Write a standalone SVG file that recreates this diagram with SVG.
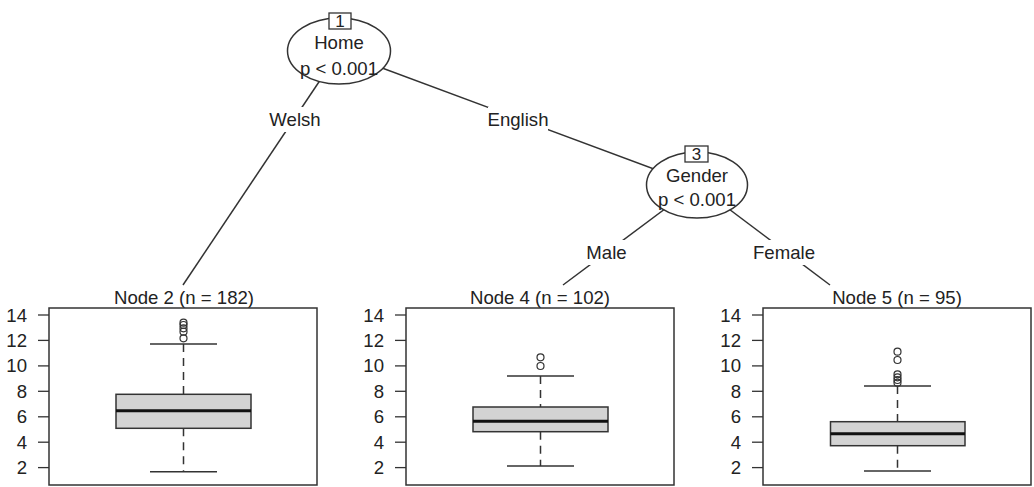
<svg xmlns="http://www.w3.org/2000/svg" width="1034" height="487" viewBox="0 0 1034 487">
<style>
text{font-family:"Liberation Sans",Arial,sans-serif;font-size:18.6px;fill:#222}
.c{text-anchor:middle}
.r{text-anchor:end}
.ln{stroke:#333;stroke-width:1.5;fill:none}
.nd{fill:#fff;stroke:#333;stroke-width:1.5}
.bx{fill:#fff;stroke:#333;stroke-width:1.3}
.pn{fill:none;stroke:#333;stroke-width:1.5}
.tk{stroke:#333;stroke-width:1.3}
.box{fill:#d3d3d3;stroke:#333;stroke-width:1.5}
.med{stroke:#111;stroke-width:3}
.wh{stroke:#333;stroke-width:1.5;stroke-dasharray:8 6}
.cap{stroke:#333;stroke-width:1.5}
.out{fill:none;stroke:#333;stroke-width:1.2}
.lb{fill:#fff}
.id{font-size:17px}
.tv{font-size:17.6px}
</style>
<g id="connectors">
<line class="ln" x1="339" y1="52" x2="183" y2="285"/>
<line class="ln" x1="339" y1="52" x2="697" y2="185"/>
<line class="ln" x1="697" y1="185" x2="563" y2="285"/>
<line class="ln" x1="697" y1="185" x2="830" y2="285"/>
<rect class="lb" x="270" y="107" width="50" height="25"/>
<text class="c" x="295" y="126">Welsh</text>
<rect class="lb" x="488" y="107" width="60" height="25"/>
<text class="c" x="518" y="126">English</text>
<rect class="lb" x="587" y="240" width="39" height="25"/>
<text class="c" x="606.5" y="259">Male</text>
<rect class="lb" x="755" y="240" width="58" height="25"/>
<text class="c" x="784" y="259">Female</text>
</g>
<g id="node1">
<ellipse class="nd" cx="339" cy="51" rx="51.5" ry="33"/>
<rect class="bx" x="329" y="13" width="22" height="16"/>
<text class="c id" x="340" y="27">1</text>
<text class="c" x="339" y="49">Home</text>
<text class="c" x="339" y="75">p &lt; 0.001</text>
</g>
<g id="node3">
<ellipse class="nd" cx="697" cy="185" rx="50.5" ry="33"/>
<rect class="bx" x="685" y="146" width="23" height="16"/>
<text class="c id" x="696.5" y="160">3</text>
<text class="c" x="697" y="182">Gender</text>
<text class="c" x="697" y="206">p &lt; 0.001</text>
</g>
<g id="node2">
<text class="c" x="184" y="304">Node 2 (n = 182)</text>
<rect class="pn" x="49" y="308" width="268" height="177"/>
<g class="tk"><line x1="38" y1="315" x2="49" y2="315"/><line x1="38" y1="340.4" x2="49" y2="340.4"/><line x1="38" y1="365.9" x2="49" y2="365.9"/><line x1="38" y1="391.3" x2="49" y2="391.3"/><line x1="38" y1="416.8" x2="49" y2="416.8"/><line x1="38" y1="442.2" x2="49" y2="442.2"/><line x1="38" y1="467.6" x2="49" y2="467.6"/></g>
<g class="tv"><text class="r" x="27" y="321.5">14</text><text class="r" x="27" y="347">12</text><text class="r" x="27" y="372.4">10</text><text class="r" x="27" y="397.8">8</text><text class="r" x="27" y="423.3">6</text><text class="r" x="27" y="448.7">4</text><text class="r" x="27" y="474.1">2</text></g>
<line class="wh" x1="183.5" y1="344" x2="183.5" y2="394.3"/>
<line class="wh" x1="183.5" y1="428.3" x2="183.5" y2="471.7"/>
<line class="cap" x1="150" y1="344" x2="217" y2="344"/>
<line class="cap" x1="150" y1="471.7" x2="217" y2="471.7"/>
<rect class="box" x="116" y="394.3" width="135" height="34"/>
<line class="med" x1="116" y1="410.7" x2="251" y2="410.7"/>
<circle class="out" cx="183.5" cy="338.3" r="3.5"/><circle class="out" cx="183.5" cy="331.7" r="3.5"/><circle class="out" cx="183.5" cy="328.3" r="3.5"/><circle class="out" cx="183.5" cy="325" r="3.5"/><circle class="out" cx="183.5" cy="322.7" r="3.5"/>
</g>
<g id="node4">
<text class="c" x="540" y="304">Node 4 (n = 102)</text>
<rect class="pn" x="406" y="308" width="268" height="177"/>
<g class="tk"><line x1="395" y1="315" x2="406" y2="315"/><line x1="395" y1="340.4" x2="406" y2="340.4"/><line x1="395" y1="365.9" x2="406" y2="365.9"/><line x1="395" y1="391.3" x2="406" y2="391.3"/><line x1="395" y1="416.8" x2="406" y2="416.8"/><line x1="395" y1="442.2" x2="406" y2="442.2"/><line x1="395" y1="467.6" x2="406" y2="467.6"/></g>
<g class="tv"><text class="r" x="384" y="321.5">14</text><text class="r" x="384" y="347">12</text><text class="r" x="384" y="372.4">10</text><text class="r" x="384" y="397.8">8</text><text class="r" x="384" y="423.3">6</text><text class="r" x="384" y="448.7">4</text><text class="r" x="384" y="474.1">2</text></g>
<line class="wh" x1="540.5" y1="376" x2="540.5" y2="407"/>
<line class="wh" x1="540.5" y1="431.7" x2="540.5" y2="466"/>
<line class="cap" x1="507" y1="376" x2="574" y2="376"/>
<line class="cap" x1="507" y1="466" x2="574" y2="466"/>
<rect class="box" x="473" y="407" width="135" height="24.7"/>
<line class="med" x1="473" y1="421.3" x2="608" y2="421.3"/>
<circle class="out" cx="540.5" cy="357.3" r="3.5"/><circle class="out" cx="540.5" cy="366" r="3.5"/>
</g>
<g id="node5">
<text class="c" x="897" y="304">Node 5 (n = 95)</text>
<rect class="pn" x="763" y="308" width="268" height="177"/>
<g class="tk"><line x1="752" y1="315" x2="763" y2="315"/><line x1="752" y1="340.4" x2="763" y2="340.4"/><line x1="752" y1="365.9" x2="763" y2="365.9"/><line x1="752" y1="391.3" x2="763" y2="391.3"/><line x1="752" y1="416.8" x2="763" y2="416.8"/><line x1="752" y1="442.2" x2="763" y2="442.2"/><line x1="752" y1="467.6" x2="763" y2="467.6"/></g>
<g class="tv"><text class="r" x="741" y="321.5">14</text><text class="r" x="741" y="347">12</text><text class="r" x="741" y="372.4">10</text><text class="r" x="741" y="397.8">8</text><text class="r" x="741" y="423.3">6</text><text class="r" x="741" y="448.7">4</text><text class="r" x="741" y="474.1">2</text></g>
<line class="wh" x1="897.5" y1="386" x2="897.5" y2="421.7"/>
<line class="wh" x1="897.5" y1="445.7" x2="897.5" y2="471"/>
<line class="cap" x1="864" y1="386" x2="931" y2="386"/>
<line class="cap" x1="864" y1="471" x2="931" y2="471"/>
<rect class="box" x="830.5" y="421.7" width="134.5" height="24"/>
<line class="med" x1="830.5" y1="433.7" x2="965" y2="433.7"/>
<circle class="out" cx="897.5" cy="351.7" r="3.5"/><circle class="out" cx="897.5" cy="360" r="3.5"/><circle class="out" cx="897.5" cy="374.3" r="3.5"/><circle class="out" cx="897.5" cy="377.3" r="3.5"/><circle class="out" cx="897.5" cy="380" r="3.5"/><circle class="out" cx="897.5" cy="382.7" r="3.5"/>
</g>
</svg>
